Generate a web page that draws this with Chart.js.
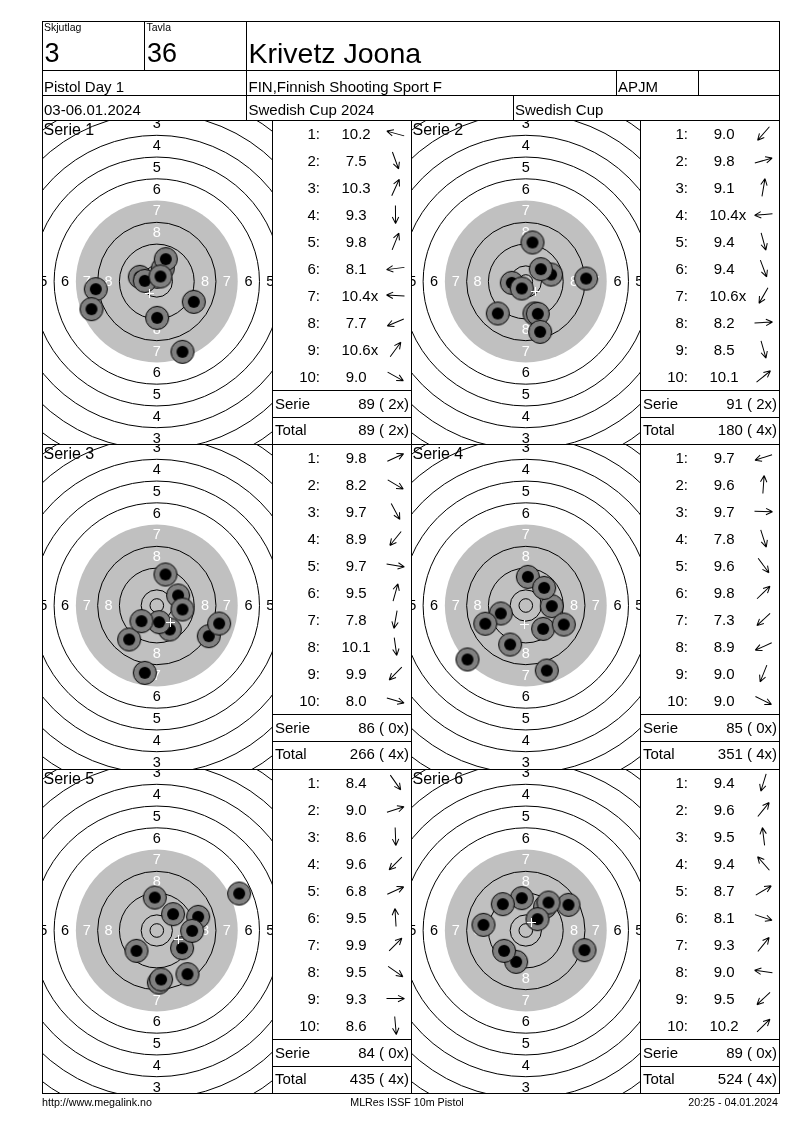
<!DOCTYPE html>
<html>
<head>
<meta charset="UTF-8">
<script src="https://cdn.jsdelivr.net/npm/chart.js"></script>
<title>Krivetz Joona - Pistol Day 1</title>
<style>
  body { margin: 0; background: #fff; }
  #page { position: relative; width: 800px; height: 1130px; overflow: hidden; }
  canvas.target { position: absolute; }
  #sheet { position: absolute; left: 0; top: 0; font-family: "Liberation Sans", Arial, sans-serif; }
</style>
</head>
<body>
<div id="page">
  <svg id="sheet" width="800" height="1130" xmlns="http://www.w3.org/2000/svg"></svg>
</div>
<script>
// shot positions in mm from target centre (x right, y up), scores as printed
const serie1Scores = ['10.2', '7.5', '10.3', '9.3', '9.8', '8.1', '10.4x', '7.7', '10.6x', '9.0'];
const serie1X = [-6.25, 9.44, 2.2, 0.12, 3.31, -22.43, -4.41, -24.02, 1.35, 13.6];
const serie1Y = [1.72, -25.86, 4.78, -13.36, 8.21, -2.82, 0.25, -10.17, 1.84, -7.48];

const serie2Scores = ['9.0', '9.8', '9.1', '10.4x', '9.4', '9.4', '10.6x', '8.2', '8.5', '10.1'];
const serie2X = [-10.29, 9.31, 2.45, -5.15, 3.19, 4.41, -1.47, 22.18, 5.27, 5.51];
const serie2Y = [-11.76, 2.57, 14.34, -0.49, -11.76, -11.89, -2.57, 1.1, -18.5, 4.53];

const serie3Scores = ['9.8', '8.2', '9.7', '8.9', '9.7', '9.5', '7.8', '10.1', '9.9', '8.0'];
const serie3X = [7.84, 19.12, 4.78, -10.17, 9.44, 3.19, -4.41, 0.86, -5.64, 22.92];
const serie3Y = [3.68, -11.27, -8.82, -12.5, -1.47, 11.4, -24.75, -6.13, -5.76, -6.62];

const serie4Scores = ['9.7', '9.6', '9.7', '7.8', '9.6', '9.8', '7.3', '8.9', '9.0', '9.0'];
const serie4X = [-9.19, 0.74, 9.56, 7.72, 6.37, 6.74, -21.45, -14.9, -5.76, 13.97];
const serie4Y = [-2.94, 10.54, -0.25, -23.9, -8.58, 6.5, -19.85, -6.7, -14.34, -6.99];

const serie5Scores = ['8.4', '9.0', '8.6', '9.6', '6.8', '9.5', '9.9', '9.5', '9.3', '8.6'];
const serie5X = [11.27, 15.2, 0.74, -7.48, 30.27, -0.74, 6.0, 9.31, 12.99, 1.59];
const serie5Y = [-16.05, 5.02, -19.12, -7.48, 13.6, 12.13, 6.0, -6.5, -0.12, -18.01];

const serie6Scores = ['9.4', '9.6', '9.5', '9.4', '8.7', '8.1', '9.3', '9.0', '9.5', '10.2'];
const serie6X = [-3.55, 7.1, -1.47, -8.46, 15.69, 21.57, 8.33, -15.56, -7.97, 4.29];
const serie6Y = [-11.52, 8.7, 11.89, 9.68, 9.44, -7.23, 10.29, 2.08, -7.48, 4.17];

const serieSums = [89, 91, 86, 85, 84, 89];
const serieInnerTens = [2, 2, 0, 0, 0, 0];
const totalSums = [89, 180, 266, 351, 435, 524];
const totalInnerTens = [2, 4, 4, 4, 4, 4];

// ISSF 10m pistol target: ring outer radius (mm) for rings 1..10, inner ten
const ringNumbers = [1, 2, 3, 4, 5, 6, 7, 8, 9, 10];
const ringRadii = [77.75, 69.75, 61.75, 53.75, 45.75, 37.75, 29.75, 21.75, 13.75, 5.75];
const innerTenRadius = 2.5;
const blackFrom = 7; // rings 7..10 are the aiming mark

const series = [
  { name: 'Serie 1', scores: serie1Scores, xs: serie1X, ys: serie1Y },
  { name: 'Serie 2', scores: serie2Scores, xs: serie2X, ys: serie2Y },
  { name: 'Serie 3', scores: serie3Scores, xs: serie3X, ys: serie3Y },
  { name: 'Serie 4', scores: serie4Scores, xs: serie4X, ys: serie4Y },
  { name: 'Serie 5', scores: serie5Scores, xs: serie5X, ys: serie5Y },
  { name: 'Serie 6', scores: serie6Scores, xs: serie6X, ys: serie6Y }
];

// layout
const pxPerMm = 2.72;
const rowTops = [120, 444, 769, 1093];
const targetLeft = [43, 412];
const targetWidth = [229, 228];
const tableLeft = [272, 640];
const tableRight = [411, 779];
const centreOffX = 113.8;
const centreOffY = 160.5;
const FONT = '"Liberation Sans", Arial, sans-serif';

const svg = document.getElementById('sheet');
const NS = 'http://www.w3.org/2000/svg';

function line(x1, y1, x2, y2) {
  const l = document.createElementNS(NS, 'line');
  l.setAttribute('x1', x1); l.setAttribute('y1', y1);
  l.setAttribute('x2', x2); l.setAttribute('y2', y2);
  l.setAttribute('stroke', '#000');
  l.setAttribute('stroke-width', 1);
  svg.appendChild(l);
}
function hline(y, x1, x2) { line(x1, y + 0.5, x2 + 1, y + 0.5); }
function vline(x, y1, y2) { line(x + 0.5, y1, x + 0.5, y2 + 1); }

function text(x, y, s, size, anchor) {
  const t = document.createElementNS(NS, 'text');
  t.setAttribute('x', x); t.setAttribute('y', y);
  t.setAttribute('font-size', size);
  t.setAttribute('font-family', FONT);
  t.setAttribute('text-anchor', anchor || 'start');
  t.setAttribute('fill', '#000');
  t.textContent = s;
  svg.appendChild(t);
}

function arrow(cx, cy, deg) {
  const g = document.createElementNS(NS, 'g');
  g.setAttribute('transform', `translate(${cx},${cy}) rotate(${-deg})`);
  g.setAttribute('stroke', '#000');
  g.setAttribute('stroke-width', 1);
  g.setAttribute('fill', 'none');
  const p = document.createElementNS(NS, 'path');
  p.setAttribute('d', 'M -9 0 L 9 0 M 9 0 L 2.5 -3.2 M 9 0 L 2.5 3.2');
  g.appendChild(p);
  svg.appendChild(g);
}

// header frame
hline(21, 42, 779);
hline(70, 42, 779);
hline(95, 42, 779);
vline(144, 21, 70);
vline(246, 21, 120);
vline(616, 70, 95);
vline(698, 70, 95);
vline(513, 95, 120);

text(44, 30.5, 'Skjutlag', 10.5);
text(146.5, 30.5, 'Tavla', 10.5);
text(44.5, 62, '3', 27);
text(147, 62, '36', 27);
text(248.5, 62.5, 'Krivetz Joona', 28.5);
text(44, 91.5, 'Pistol Day 1', 15);
text(248.5, 91.5, 'FIN,Finnish Shooting Sport F', 15);
text(618, 91.5, 'APJM', 15);
text(44, 115.3, '03-06.01.2024', 15);
text(248.5, 115.3, 'Swedish Cup 2024', 15);
text(515, 115.3, 'Swedish Cup', 15);

// panel frame
vline(42, 21, 1093);
vline(779, 21, 1093);
vline(272, 120, 1093);
vline(411, 120, 1093);
vline(640, 120, 1093);
rowTops.forEach(y => hline(y, 42, 779));

// footer
text(42, 1106, 'http://www.megalink.no', 10.7);
text(407, 1106, 'MLRes ISSF 10m Pistol', 10.7, 'middle');
text(778, 1106, '20:25 - 04.01.2024', 10.7, 'end');

// shot glyph
function makeShotGlyph() {
  const c = document.createElement('canvas');
  c.width = 26; c.height = 26;
  const g = c.getContext('2d');
  g.beginPath(); g.arc(13, 13, 11.5, 0, Math.PI * 2);
  g.fillStyle = '#808080'; g.fill();
  g.lineWidth = 1; g.strokeStyle = '#000'; g.stroke();
  g.beginPath(); g.arc(13, 13, 6, 0, Math.PI * 2);
  g.fillStyle = '#000'; g.fill();
  return c;
}
const shotGlyph = makeShotGlyph();

const targetPlugin = {
  id: 'target',
  beforeDatasetsDraw(chart) {
    const { ctx, chartArea: a, scales: { x, y } } = chart;
    const cx = x.getPixelForValue(0), cy = y.getPixelForValue(0);
    const px = mm => x.getPixelForValue(mm) - cx;
    ctx.save();
    ctx.beginPath();
    ctx.rect(a.left, a.top, a.right - a.left, a.bottom - a.top);
    ctx.clip();
    ctx.fillStyle = '#fff';
    ctx.fillRect(a.left, a.top, a.right - a.left, a.bottom - a.top);
    // aiming mark
    ctx.fillStyle = '#c0c0c0';
    ctx.beginPath();
    ctx.arc(cx, cy, px(ringRadii[blackFrom - 1]), 0, Math.PI * 2);
    ctx.fill();
    // ring lines
    ctx.strokeStyle = '#000';
    ctx.lineWidth = 1;
    ringNumbers.forEach((n, i) => {
      if (n === blackFrom) return;
      ctx.beginPath();
      ctx.arc(cx, cy, px(ringRadii[i]), 0, Math.PI * 2);
      ctx.stroke();
    });
    ctx.beginPath();
    ctx.arc(cx, cy, px(innerTenRadius), 0, Math.PI * 2);
    ctx.stroke();
    // ring numbers
    ctx.font = '14.5px ' + FONT;
    ctx.textAlign = 'center';
    ctx.textBaseline = 'middle';
    ringNumbers.forEach((n, i) => {
      if (n > 8) return;
      const r = px((ringRadii[i] + ringRadii[i + 1]) / 2);
      ctx.fillStyle = n >= blackFrom ? '#fff' : '#000';
      ctx.fillText(String(n), cx, cy - r);
      ctx.fillText(String(n), cx, cy + r);
      ctx.fillText(String(n), cx - r, cy);
      ctx.fillText(String(n), cx + r, cy);
    });
    ctx.restore();
  },
  afterDatasetsDraw(chart) {
    // centre of the group
    const { ctx, scales: { x, y } } = chart;
    const pts = chart.data.datasets[0].data;
    const mx = pts.reduce((s, p) => s + p.x, 0) / pts.length;
    const my = pts.reduce((s, p) => s + p.y, 0) / pts.length;
    const gx = Math.round(x.getPixelForValue(mx)) + 0.5;
    const gy = Math.round(y.getPixelForValue(my)) + 0.5;
    ctx.save();
    ctx.strokeStyle = '#fff';
    ctx.lineWidth = 1;
    ctx.beginPath();
    ctx.moveTo(gx - 4.5, gy); ctx.lineTo(gx + 4.5, gy);
    ctx.moveTo(gx, gy - 4.5); ctx.lineTo(gx, gy + 4.5);
    ctx.stroke();
    ctx.restore();
  }
};

const page = document.getElementById('page');

series.forEach((s, k) => {
  const row = Math.floor(k / 2), col = k % 2;
  const top = rowTops[row];
  const h = rowTops[row + 1] - top - 1;
  const w = targetWidth[col];

  const canvas = document.createElement('canvas');
  canvas.className = 'target';
  canvas.width = w; canvas.height = h;
  canvas.style.left = targetLeft[col] + 'px';
  canvas.style.top = (top + 1) + 'px';
  canvas.style.width = w + 'px';
  canvas.style.height = h + 'px';
  page.insertBefore(canvas, svg);

  const points = s.xs.map((x, i) => ({ x: x, y: s.ys[i] }));

  new Chart(canvas, {
    type: 'scatter',
    data: {
      datasets: [{
        label: s.name,
        data: points,
        pointStyle: shotGlyph,
        pointRadius: 11,
        pointHoverRadius: 11,
        clip: false
      }]
    },
    options: {
      responsive: false,
      animation: false,
      events: [],
      layout: { padding: 0, autoPadding: false },
      plugins: { legend: { display: false }, tooltip: { enabled: false } },
      scales: {
        x: { type: 'linear', display: false, min: -centreOffX / pxPerMm, max: (w - centreOffX) / pxPerMm },
        y: { type: 'linear', display: false, min: -(h - centreOffY) / pxPerMm, max: centreOffY / pxPerMm }
      }
    },
    plugins: [targetPlugin]
  });

  // label on the target
  text(targetLeft[col] + 0.5, top + 14.5, s.name, 16);

  // score table
  const tl = tableLeft[col];
  s.scores.forEach((sc, i) => {
    const base = top + 18.7 + 27 * i;
    text(tl + 48, base, (i + 1) + ':', 15, 'end');
    const num = parseFloat(sc);
    text(tl + 69.5 + (num < 10 ? 4.2 : 0), base, sc, 15);
    const deg = Math.atan2(s.ys[i], s.xs[i]) * 180 / Math.PI;
    arrow(tl + 123.5, top + 13.5 + 27 * i, deg);
  });
  hline(top + 270, tl, tableRight[col]);
  hline(top + 297, tl, tableRight[col]);
  text(tl + 3, top + 288.7, 'Serie', 15);
  text(tl + 137, top + 288.7, serieSums[k] + ' ( ' + serieInnerTens[k] + 'x)', 15, 'end');
  text(tl + 3, top + 315.3, 'Total', 15);
  text(tl + 137, top + 315.3, totalSums[k] + ' ( ' + totalInnerTens[k] + 'x)', 15, 'end');
});
</script>
</body>
</html>
